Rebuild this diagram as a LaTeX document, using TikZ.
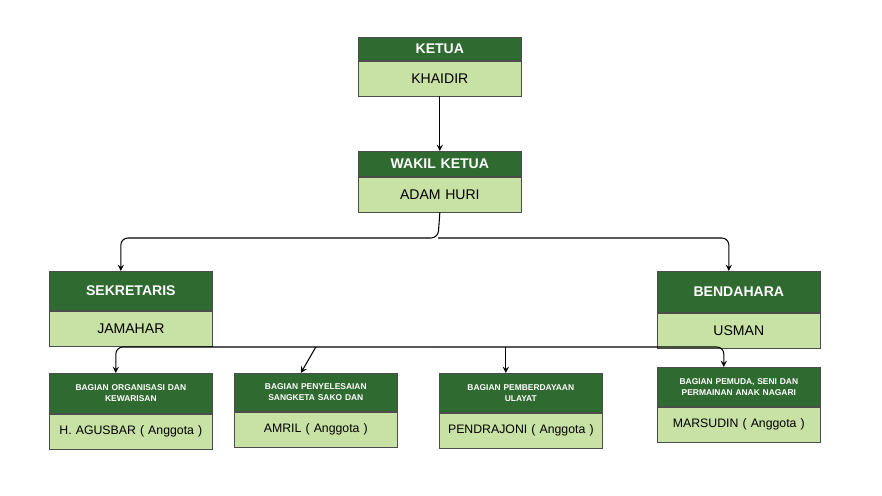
\documentclass[tikz,border=0pt]{standalone}
\usepackage{fontspec}
\setmainfont{Liberation Sans}
\usepackage{tikz}
\usetikzlibrary{positioning}
\definecolor{darkgreen}{HTML}{2F6A30}
\definecolor{lightgreen}{HTML}{C8E1A5}
\tikzset{
  head/.style={draw=black!70, fill=darkgreen, text=white, font=\bfseries\fontsize{8}{9}\selectfont,
    minimum width=3.26cm, text width=3.1cm, align=center, inner sep=1pt, anchor=north west},
  body/.style={draw=black!70, fill=lightgreen, font=\fontsize{8}{9}\selectfont,
    minimum width=3.26cm, text width=3.1cm, align=center, inner sep=1pt, minimum height=0.7cm},
  small/.style={font=\bfseries\fontsize{4.8}{6.5}\selectfont},
  conn/.style={->, >=stealth, semithick, rounded corners=4pt}
}
\begin{document}
\begin{tikzpicture}[x=0.02cm, y=-0.02cm]
\useasboundingbox (0,0) rectangle (882,495);

% pengurus inti
\node[head, minimum height=0.46cm] (ketua) at (358,37) {KETUA};
\node[body, below=0pt of ketua] (khaidir) {KHAIDIR};
\node[head, minimum height=0.5cm] (wakil) at (358,151) {WAKIL KETUA};
\node[body, below=0pt of wakil] (adam) {ADAM HURI};
\node[head, minimum height=0.78cm, text width=2.6cm] (sekretaris) at (49,271) {SEKRETARIS};
\node[body, below=0pt of sekretaris] (jamahar) {JAMAHAR};
\node[head, minimum height=0.82cm, text width=2.6cm] (bendahara) at (657,271) {BENDAHARA};
\node[body, below=0pt of bendahara] (usman) {USMAN};

% bagian
\node[head, small, minimum height=0.8cm] (organisasi) at (49,373) {BAGIAN ORGANISASI DAN\\KEWARISAN};
\node[body, below=0pt of organisasi, font=\fontsize{7}{8}\selectfont] (agusbar) {H. AGUSBAR ( Anggota )};
\node[head, small, minimum height=0.76cm] (penyelesaian) at (234,373) {BAGIAN PENYELESAIAN\\SANGKETA SAKO DAN};
\node[body, below=0pt of penyelesaian, font=\fontsize{7}{8}\selectfont] (amril) {AMRIL ( Anggota )};
\node[head, small, minimum height=0.78cm] (pemberdayaan) at (439,373) {BAGIAN PEMBERDAYAAN\\ULAYAT};
\node[body, below=0pt of pemberdayaan, font=\fontsize{7}{8}\selectfont] (pendrajoni) {PENDRAJONI ( Anggota )};
\node[head, small, minimum height=0.78cm] (pemuda) at (657,367) {BAGIAN PEMUDA, SENI DAN\\PERMAINAN ANAK NAGARI};
\node[body, below=0pt of pemuda, font=\fontsize{7}{8}\selectfont] (marsudin) {MARSUDIN ( Anggota )};

% garis
\draw[conn] (khaidir.south) -- (wakil.north);
\coordinate (split) at (438,238);
\draw[conn] (adam.south) -- (split) -| ([xshift=-0.2cm]sekretaris.north);
\draw[conn] (split) -| ([xshift=-0.2cm]bendahara.north);
\coordinate (bus) at (438,347);
\draw[conn] (bus) -| ([xshift=-0.3cm]organisasi.north);
\draw[conn] (bus) -| ([xshift=-0.3cm]pemuda.north);
\draw[conn] (penyelesaian.north |- bus) -- ([xshift=-0.3cm]penyelesaian.north);
\draw[conn] ([xshift=-0.3cm]pemberdayaan.north |- bus) -- ([xshift=-0.3cm]pemberdayaan.north);
\end{tikzpicture}
\end{document}
